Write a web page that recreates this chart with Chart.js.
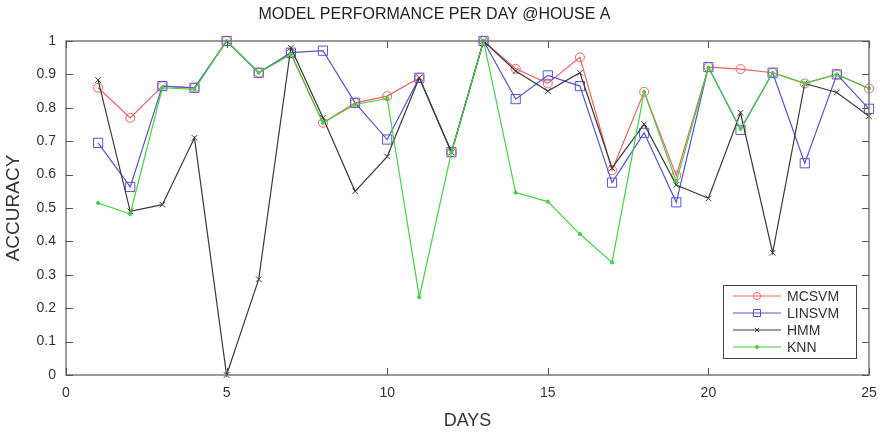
<!DOCTYPE html>
<html>
<head>
<meta charset="utf-8">
<script src="https://cdn.jsdelivr.net/npm/chart.js@4/dist/chart.umd.min.js"></script>
<style>
  html, body { margin: 0; padding: 0; background: #fff; }
  #wrap { width: 880px; height: 433px; }
</style>
</head>
<body>
<div id="wrap"><canvas id="perf"></canvas></div>
<script>
// days 1..25
const days = [1,2,3,4,5,6,7,8,9,10,11,12,13,14,15,16,17,18,19,20,21,22,23,24,25];

const mcsvm  = [0.86,0.77,0.865,0.86,1.0,0.905,0.963,0.755,0.815,0.835,0.89,0.667,1.0,0.917,0.873,0.951,0.613,0.848,0.597,0.922,0.916,0.905,0.873,0.9,0.858];
const linsvm = [0.695,0.563,0.865,0.86,1.0,0.905,0.965,0.971,0.815,0.705,0.89,0.667,1.0,0.826,0.897,0.865,0.576,0.725,0.517,0.922,0.734,0.905,0.634,0.9,0.797];
const hmm    = [0.883,0.49,0.51,0.71,0.0,0.287,0.98,0.77,0.55,0.654,0.89,0.667,1.0,0.91,0.85,0.905,0.62,0.751,0.569,0.529,0.785,0.366,0.873,0.846,0.775];
const knn    = [0.515,0.482,0.86,0.855,1.0,0.905,0.96,0.755,0.81,0.828,0.233,0.667,1.0,0.546,0.519,0.422,0.337,0.848,0.579,0.92,0.737,0.905,0.873,0.9,0.858];

const xTicks = [0,5,10,15,20,25];
const yTicks = [0,0.1,0.2,0.3,0.4,0.5,0.6,0.7,0.8,0.9,1];

const FONT = '"Liberation Sans", Arial, sans-serif';

function pts(vals) {
  return vals.map((v, i) => ({ x: days[i], y: v }));
}

// matlab-ish frame with inward ticks
const frame = {
  id: 'frame',
  afterDatasetsDraw(chart) {
    const { ctx, chartArea: a, scales } = chart;
    ctx.save();
    ctx.strokeStyle = '#7a7a7a';
    ctx.lineWidth = 1.5;
    ctx.strokeRect(a.left, a.top, a.right - a.left, a.bottom - a.top);
    ctx.lineWidth = 1;
    ctx.strokeStyle = '#555';
    ctx.beginPath();
    xTicks.forEach(t => {
      const px = Math.round(scales.x.getPixelForValue(t)) + 0.5;
      ctx.moveTo(px, a.bottom); ctx.lineTo(px, a.bottom - 7);
      ctx.moveTo(px, a.top); ctx.lineTo(px, a.top + 7);
    });
    yTicks.forEach(t => {
      const py = Math.round(scales.y.getPixelForValue(t)) + 0.5;
      ctx.moveTo(a.left, py); ctx.lineTo(a.left + 7, py);
      ctx.moveTo(a.right, py); ctx.lineTo(a.right - 7, py);
    });
    ctx.stroke();
    ctx.restore();
  }
};

// legend box inside the plot, bottom right
const boxLegend = {
  id: 'boxLegend',
  afterDraw(chart) {
    const { ctx, chartArea: a } = chart;
    const sets = chart.data.datasets;
    const w = 133, h = 73;
    const x0 = a.right - 13 - w, y0 = a.bottom - 17 - h;
    ctx.save();
    ctx.fillStyle = '#fff';
    ctx.fillRect(x0, y0, w, h);
    ctx.strokeStyle = '#444';
    ctx.lineWidth = 1;
    ctx.strokeRect(x0 + 0.5, y0 + 0.5, w, h);
    ctx.textBaseline = 'middle';
    sets.forEach((ds, i) => {
      const cy = y0 + 11 + i * 17;
      ctx.strokeStyle = ds.borderColor;
      ctx.lineWidth = 1;
      ctx.beginPath();
      ctx.moveTo(x0 + 10, cy); ctx.lineTo(x0 + 58, cy);
      ctx.stroke();
      ctx.fillStyle = ds.pointBackgroundColor;
      Chart.helpers.drawPoint(ctx, {
        pointStyle: ds.pointStyle,
        radius: ds.legendRadius,
        borderWidth: 1
      }, x0 + 34, cy);
      ctx.fillStyle = '#333';
      ctx.font = '14px ' + FONT;
      ctx.fillText(ds.label, x0 + 64, cy + 1);
    });
    ctx.restore();
  }
};

function series(label, vals, color, style, r, lr, fill, order) {
  return {
    label: label,
    data: pts(vals),
    borderColor: color,
    backgroundColor: fill,
    pointBackgroundColor: fill,
    pointBorderColor: color,
    pointStyle: style,
    pointRadius: r,
    pointHoverRadius: r,
    legendRadius: lr,
    pointBorderWidth: 1,
    borderWidth: 1.2,
    tension: 0,
    clip: false,
    order: order
  };
}

const chart = new Chart(document.getElementById('perf'), {
  type: 'line',
  data: {
    datasets: [
      series('MCSVM', mcsvm, '#f06060', 'circle', 4.5, 3.5, 'rgba(255,255,255,0)', 3),
      series('LINSVM', linsvm, '#5555cc', 'rect', 6.5, 5, 'rgba(255,255,255,0)', 2),
      series('HMM', hmm, '#3a3a3a', 'crossRot', 4, 3, 'rgba(255,255,255,0)', 1),
      series('KNN', knn, '#44d044', 'circle', 1.6, 1.5, '#44d044', 0)
    ]
  },
  plugins: [frame, boxLegend],
  options: {
    responsive: true,
    maintainAspectRatio: false,
    animation: false,
    layout: { padding: { left: 0, right: 11, top: 0, bottom: 0 } },
    plugins: {
      legend: { display: false },
      tooltip: { enabled: false },
      title: {
        display: true,
        text: 'MODEL PERFORMANCE PER DAY @HOUSE A',
        color: '#222',
        font: { family: FONT, size: 16, weight: 'normal', lineHeight: 1.2 },
        padding: { top: 5, bottom: 16.8 }
      }
    },
    scales: {
      x: {
        type: 'linear',
        min: 0, max: 25,
        afterFit(s) { s.height = 58; s.paddingLeft = 0; s.paddingRight = 0; },
        afterBuildTicks(s) { s.ticks = xTicks.map(v => ({ value: v })); },
        grid: { display: false, drawTicks: false },
        border: { display: false },
        ticks: { color: '#333', padding: 10, font: { family: FONT, size: 14 }, maxRotation: 0,
                 callback: v => String(v) },
        title: {
          display: true, text: 'DAYS', color: '#333',
          font: { family: FONT, size: 18 },
          padding: { top: 0, bottom: 1 }
        }
      },
      y: {
        min: 0, max: 1,
        afterFit(s) { s.width = 66; },
        afterBuildTicks(s) { s.ticks = yTicks.map(v => ({ value: v })); },
        grid: { display: false, drawTicks: false },
        border: { display: false },
        ticks: { color: '#333', padding: 10, font: { family: FONT, size: 14 },
                 callback: v => String(v) },
        title: {
          display: true, text: 'ACCURACY', color: '#333',
          font: { family: FONT, size: 19 },
          padding: { top: 2, bottom: 0 }
        }
      }
    }
  }
});
</script>
</body>
</html>
